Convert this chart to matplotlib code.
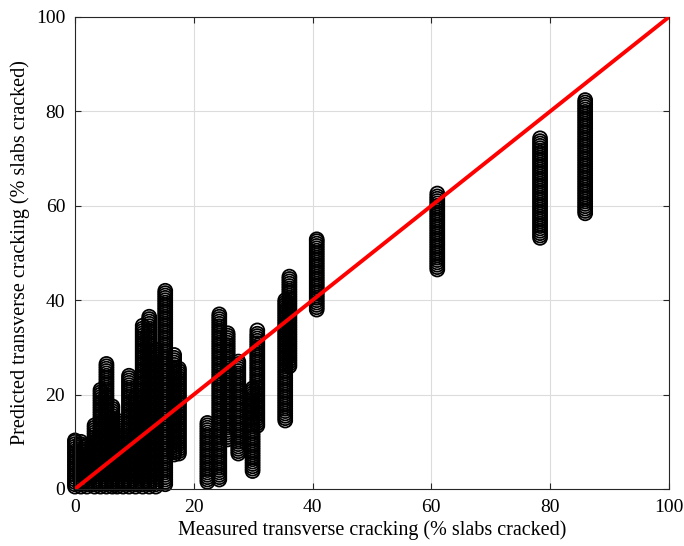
import matplotlib

matplotlib.use("Agg")
import matplotlib.pyplot as plt

# measured cracking value of each column of points (% slabs cracked)
measured = [0, 1, 2, 3.3, 4.3, 5.3, 6.3, 7.1, 8.1, 9.1, 10.2, 11.4, 12.5, 13.6,
            15.2, 16.7, 17.5, 22.3, 24.3, 25.7, 27.5, 29.9, 30.7, 35.4, 36.1,
            40.7, 61.0, 78.3, 85.9]

# predicted values (estimated, the stacks overlap heavily)
pred_0 = [0.5, 1, 1.5, 2, 2.5, 3, 3.5, 4, 4.5, 5, 5.5, 6, 6.5, 7, 7.5, 8, 8.5,
          9, 9.5, 10, 10.3]
pred_1 = [0.5, 1, 1.5, 2, 2.5, 3, 3.5, 4, 4.5, 5, 5.5, 6, 6.5, 7, 7.5, 8, 8.5,
          9, 9.5, 10]
pred_2 = [0.5, 1, 1.5, 2, 2.5, 3, 3.5, 4, 4.5, 5, 5.5, 6, 6.5, 7, 7.5, 8, 8.5,
          9, 9.3]
pred_3 = [0.5, 1, 1.5, 2, 2.5, 3, 3.5, 4, 4.5, 5, 5.5, 6, 6.5, 7, 7.5, 8, 8.5,
          9, 9.5, 10, 10.5, 11, 11.5, 12, 12.5, 13, 13.5]
pred_4 = [0.5, 1, 1.5, 2, 2.5, 3, 3.5, 4, 4.5, 5, 5.5, 6, 6.5, 7, 7.5, 8, 8.5,
          9, 9.5, 10, 10.5, 11, 11.5, 12, 12.5, 13, 13.5, 14, 14.5, 15, 15.5,
          16, 16.5, 17, 17.5, 18, 18.5, 19, 19.5, 20, 20.5, 21]
pred_5 = [0.5, 1, 1.5, 2, 2.5, 3, 3.5, 4, 4.5, 5, 5.5, 6, 6.5, 7, 7.5, 8, 8.5,
          9, 9.5, 10, 10.5, 11, 11.5, 12, 12.5, 13, 13.5, 14, 14.5, 15, 15.5,
          16, 16.5, 17, 17.5, 18, 18.5, 19, 19.5, 20, 20.5, 21, 21.5, 22, 22.5,
          23, 23.5, 24, 24.5, 25, 25.5, 26, 26.5]
pred_6 = [0.5, 1, 1.5, 2, 2.5, 3, 3.5, 4, 4.5, 5, 5.5, 6, 6.5, 7, 7.5, 8, 8.5,
          9, 9.5, 10, 10.5, 11, 11.5, 12, 12.5, 13, 13.5, 14, 14.5, 15, 15.5,
          16, 16.5, 17, 17.5]
pred_7 = [0.5, 1, 1.5, 2, 2.5, 3, 3.5, 4, 4.5, 5, 5.5, 6, 6.5, 7, 7.5, 8, 8.5,
          9, 9.5, 10, 10.5, 11, 11.5, 12, 12.5, 13, 13.5, 14, 14.5]
pred_8 = [0.5, 1, 1.5, 2, 2.5, 3, 3.5, 4, 4.5, 5, 5.5, 6, 6.5, 7, 7.5, 8, 8.5,
          9, 9.5, 10, 10.5]
pred_9 = [0.5, 1, 1.5, 2, 2.5, 3, 3.5, 4, 4.5, 5, 5.5, 6, 6.5, 7, 7.5, 8, 8.5,
          9, 9.5, 10, 10.5, 11, 11.5, 12, 12.5, 13, 13.5, 14, 14.5, 15, 15.5,
          16, 16.5, 17, 17.5, 18, 18.5, 19, 19.5, 20, 20.5, 21, 21.5, 22, 22.5,
          23, 23.5, 24]
pred_10 = [0.5, 1, 1.5, 2, 2.5, 3, 3.5, 4, 4.5, 5, 5.5, 6, 6.5, 7, 7.5, 8, 8.5,
           9, 9.5, 10, 10.5, 11, 11.5, 12, 12.5, 13, 13.5, 14, 14.5, 15, 15.5,
           16, 16.5, 17, 17.5, 18, 18.5, 19, 19.5]
pred_11 = [0.5, 1, 1.5, 2, 2.5, 3, 3.5, 4, 4.5, 5, 5.5, 6, 6.5, 7, 7.5, 8, 8.5,
           9, 9.5, 10, 10.5, 11, 11.5, 12, 12.5, 13, 13.5, 14, 14.5, 15, 15.5,
           16, 16.5, 17, 17.5, 18, 18.5, 19, 19.5, 20, 20.5, 21, 21.5, 22, 22.5,
           23, 23.5, 24, 24.5, 25, 25.5, 26, 26.5, 27, 27.5, 28, 28.5, 29, 29.5,
           30, 30.5, 31, 31.5, 32, 32.5, 33, 33.5, 34, 34.6]
pred_12 = [0.5, 1, 1.5, 2, 2.5, 3, 3.5, 4, 4.5, 5, 5.5, 6, 6.5, 7, 7.5, 8, 8.5,
           9, 9.5, 10, 10.5, 11, 11.5, 12, 12.5, 13, 13.5, 14, 14.5, 15, 15.5,
           16, 16.5, 17, 17.5, 18, 18.5, 19, 19.5, 20, 20.5, 21, 21.5, 22, 22.5,
           23, 23.5, 24, 24.5, 25, 25.5, 26, 26.5, 27, 27.5, 28, 28.5, 29, 29.5,
           30, 30.5, 31, 31.5, 32, 32.5, 33, 33.5, 34, 34.5, 35, 35.5, 36, 36.5]
pred_13 = [0.5, 1, 1.5, 2, 2.5, 3, 3.5, 4, 4.5, 5, 5.5, 6, 6.5, 7, 7.5, 8, 8.5,
           9, 9.5, 10, 10.5, 11, 11.5, 12, 12.5, 13, 13.5, 14, 14.5, 15, 15.5,
           16, 16.5, 17, 17.5, 18, 18.5, 19, 19.5, 20, 20.5, 21, 21.5, 22, 22.5,
           23, 23.5, 24, 24.5, 25, 25.5, 26, 26.5, 27, 27.5, 28, 28.5, 29, 29.5]
pred_15 = [1, 1.5, 2, 2.5, 3, 3.5, 4, 4.5, 5, 5.5, 6, 6.5, 7, 7.5, 8, 8.5, 9,
           9.5, 10, 10.5, 11, 11.5, 12, 12.5, 13, 13.5, 14, 14.5, 15, 15.5, 16,
           16.5, 17, 17.5, 18, 18.5, 19, 19.5, 20, 20.5, 21, 21.5, 22, 22.5, 23,
           23.5, 24, 24.5, 25, 25.5, 26, 26.5, 27, 27.5, 28, 28.5, 29, 29.5, 30,
           30.5, 31, 31.5, 32, 32.5, 33, 33.5, 34, 34.5, 35, 35.5, 36, 36.5, 37,
           37.5, 38, 38.5, 39, 39.5, 40, 40.5, 41, 41.5, 42]
pred_16 = [7.3, 7.8, 8.3, 8.8, 9.3, 9.8, 10.3, 10.8, 11.3, 11.8, 12.3, 12.8,
           13.3, 13.8, 14.3, 14.8, 15.3, 15.8, 16.3, 16.8, 17.3, 17.8, 18.3,
           18.8, 19.3, 19.8, 20.3, 20.8, 21.3, 21.8, 22.3, 22.8, 23.3, 23.8,
           24.3, 24.8, 25.3, 25.8, 26.3, 26.8, 27.3, 27.8, 28.4]
pred_17 = [7.5, 8, 8.5, 9, 9.5, 10, 10.5, 11, 11.5, 12, 12.5, 13, 13.5, 14,
           14.5, 15, 15.5, 16, 16.5, 17, 17.5, 18, 18.5, 19, 19.5, 20, 20.5, 21,
           21.5, 22, 22.5, 23, 23.5, 24, 24.5, 25, 25.5]
pred_22 = [1.5, 2, 2.5, 3, 3.5, 4, 4.5, 5, 5.5, 6, 6.5, 7, 7.5, 8, 8.5, 9, 9.5,
           10, 10.5, 11, 11.5, 12, 12.5, 13, 13.5, 14]
pred_24 = [2, 2.5, 3, 3.5, 4, 4.5, 5, 5.5, 6, 6.5, 7, 7.5, 8, 8.5, 9, 9.5, 10,
           10.5, 11, 11.5, 12, 12.5, 13, 13.5, 14, 14.5, 15, 15.5, 16, 16.5, 17,
           17.5, 18, 18.5, 19, 19.5, 20, 20.5, 21, 21.5, 22, 22.5, 23, 23.5, 24,
           24.5, 25, 25.5, 26, 26.5, 27, 27.5, 28, 28.5, 29, 29.5, 30, 30.5, 31,
           31.5, 32, 32.5, 33, 33.5, 34, 34.5, 35, 35.5, 36, 36.5, 37]
pred_25 = [10.5, 11, 11.5, 12, 12.5, 13, 13.5, 14, 14.5, 15, 15.5, 16, 16.5,
           17, 17.5, 18, 18.5, 19, 19.5, 20, 20.5, 21, 21.5, 22, 22.5, 23, 23.5,
           24, 24.5, 25, 25.5, 26, 26.5, 27, 27.5, 28, 28.5, 29, 29.5, 30, 30.5,
           31, 31.5, 32, 32.5, 33]
pred_27 = [7.5, 8, 8.5, 9, 9.5, 10, 10.5, 11, 11.5, 12, 12.5, 13, 13.5, 14,
           14.5, 15, 15.5, 16, 16.5, 17, 17.5, 18, 18.5, 19, 19.5, 20, 20.5, 21,
           21.5, 22, 22.5, 23, 23.5, 24, 24.5, 25, 25.5, 26, 26.5, 27]
pred_29 = [3.8, 4.3, 4.8, 5.3, 5.8, 6.3, 6.8, 7.3, 7.8, 8.3, 8.8, 9.3, 9.8,
           10.3, 10.8, 11.3, 11.8, 12.3, 12.8, 13.3, 13.8, 14.3, 14.8, 15.3,
           15.8, 16.3, 16.8, 17.3, 17.8, 18.3, 18.8, 19.3, 19.8, 20.3, 20.8, 21.3]
pred_30 = [13.4, 13.9, 14.4, 14.9, 15.4, 15.9, 16.4, 16.9, 17.4, 17.9, 18.4,
           18.9, 19.4, 19.9, 20.4, 20.9, 21.4, 21.9, 22.4, 22.9, 23.4, 23.9,
           24.4, 24.9, 25.4, 25.9, 26.4, 26.9, 27.4, 27.9, 28.4, 28.9, 29.4,
           29.9, 30.4, 30.9, 31.4, 31.9, 32.4, 32.9, 33.6]
pred_35 = [14.5, 15, 15.5, 16, 16.5, 17, 17.5, 18, 18.5, 19, 19.5, 20, 20.5,
           21, 21.5, 22, 22.5, 23, 23.5, 24, 24.5, 25, 25.5, 26, 26.5, 27, 27.5,
           28, 28.5, 29, 29.5, 30, 30.5, 31, 31.5, 32, 32.5, 33, 33.5, 34, 34.5,
           35, 35.5, 36, 36.5, 37, 37.5, 38, 38.5, 39, 39.5, 40]
pred_36 = [26, 26.5, 27, 27.5, 28, 28.5, 29, 29.5, 30, 30.5, 31, 31.5, 32, 32.5,
           33, 33.5, 34, 34.5, 35, 35.5, 36, 36.5, 37, 37.5, 38, 38.5, 39, 39.5,
           40, 40.5, 41, 41.5, 42, 42.5, 43, 43.5, 44, 44.5, 45]
pred_40 = [38, 38.5, 39, 39.5, 40, 40.5, 41, 41.5, 42, 42.5, 43, 43.5, 44, 44.5,
           45, 45.5, 46, 46.5, 47, 47.5, 48, 48.5, 49, 49.5, 50, 50.5, 51, 51.5,
           52, 52.5, 52.9]
pred_61 = [46.5, 47, 47.5, 48, 48.5, 49, 49.5, 50, 50.5, 51, 51.5, 52, 52.5,
           53, 53.5, 54, 54.5, 55, 55.5, 56, 56.5, 57, 57.5, 58, 58.5, 59, 59.5,
           60, 60.5, 61, 61.5, 62, 62.6]
pred_78 = [53.2, 53.7, 54.2, 54.7, 55.2, 55.7, 56.2, 56.7, 57.2, 57.7, 58.2,
           58.7, 59.2, 59.7, 60.2, 60.7, 61.2, 61.7, 62.2, 62.7, 63.2, 63.7,
           64.2, 64.7, 65.2, 65.7, 66.2, 66.7, 67.2, 67.7, 68.2, 68.7, 69.2,
           69.7, 70.2, 70.7, 71.2, 71.7, 72.2, 72.7, 73.2, 73.7, 74.3]
pred_86 = [58.4, 58.9, 59.4, 59.9, 60.4, 60.9, 61.4, 61.9, 62.4, 62.9, 63.4,
           63.9, 64.4, 64.9, 65.4, 65.9, 66.4, 66.9, 67.4, 67.9, 68.4, 68.9,
           69.4, 69.9, 70.4, 70.9, 71.4, 71.9, 72.4, 72.9, 73.4, 73.9, 74.4,
           74.9, 75.4, 75.9, 76.4, 76.9, 77.4, 77.9, 78.4, 78.9, 79.4, 79.9,
           80.4, 80.9, 81.4, 81.9, 82.4]

predicted = [pred_0, pred_1, pred_2, pred_3, pred_4, pred_5, pred_6, pred_7,
             pred_8, pred_9, pred_10, pred_11, pred_12, pred_13, pred_15,
             pred_16, pred_17, pred_22, pred_24, pred_25, pred_27, pred_29,
             pred_30, pred_35, pred_36, pred_40, pred_61, pred_78, pred_86]

# line of equality
line_x = [0, 100]
line_y = [0, 100]

ticks = [0, 20, 40, 60, 80, 100]

plt.rcParams["font.family"] = ["Liberation Serif", "DejaVu Serif"]

figure = plt.figure(figsize=(6.84, 5.46), dpi=100)
axis = figure.add_axes([0.1096, 0.1044, 0.8684, 0.8645])

for x_value, values in zip(measured, predicted):
    axis.scatter(
        [x_value] * len(values),
        values,
        s=100,
        facecolors="none",
        edgecolors="black",
        linewidths=1.3,
        clip_on=False,
        zorder=2,
    )

axis.plot(line_x, line_y, color="red", linewidth=2.8, zorder=3)

axis.set_xlim(0, 100)
axis.set_ylim(0, 100)
axis.set_xticks(ticks)
axis.set_yticks(ticks)
axis.grid(True, color="#dcdcdc", linewidth=0.8)
axis.set_axisbelow(True)
axis.tick_params(
    direction="in",
    top=True,
    right=True,
    length=4,
    width=0.8,
    color="#262626",
    labelsize=14,
    pad=7,
)
for spine in axis.spines.values():
    spine.set_color("#262626")
    spine.set_linewidth(0.8)

axis.set_xlabel("Measured transverse cracking (% slabs cracked)", fontsize=14.5,
                labelpad=3)
axis.set_ylabel("Predicted transverse cracking (% slabs cracked)", fontsize=14.5,
                labelpad=4)

figure.savefig("out.png", dpi=100)
